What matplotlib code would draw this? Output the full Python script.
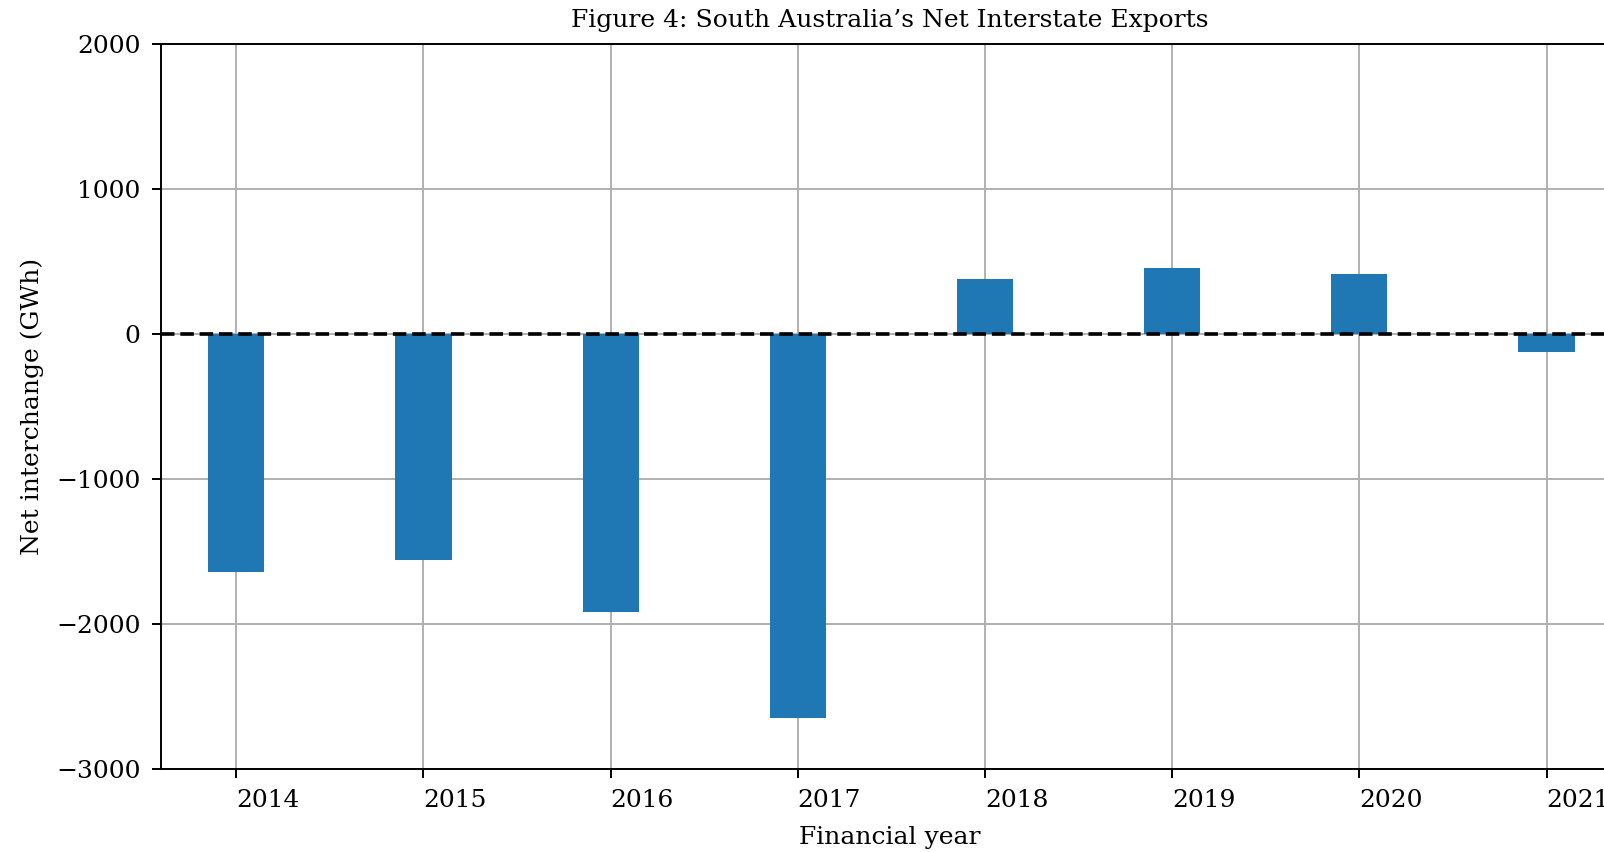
import matplotlib
matplotlib.use("Agg")
import matplotlib.pyplot as plt

years = [2014, 2015, 2016, 2017, 2018, 2019, 2020, 2021]
net_interchange = [-1643, -1558, -1918, -2645, 381, 458, 416, -127]
yticks = [-3000, -2000, -1000, 0, 1000, 2000]

S = 1.75
plt.rcParams['font.family'] = ['DejaVu Serif']
plt.rcParams['font.size'] = 18

fig = plt.figure(figsize=(16.04, 8.52), dpi=100)
ax = fig.add_axes([161/1604, 83/852, 1458/1604, 725/852])

ax.grid(True, color='#b0b0b0', lw=0.8 * S, zorder=0)
ax.set_axisbelow(True)
ax.bar(years, net_interchange, width=0.3, color='#1f77b4', zorder=2)
ax.axhline(0, color='black', ls='--', lw=1.5 * S, zorder=3)

ax.set_xlim(2013.598, 2021.387)
ax.set_ylim(-3000, 2000)
ax.set_yticks(yticks)
ax.set_xticks(years)
ax.set_xticklabels([str(y) for y in years], ha='left')

for sp in ax.spines.values():
    sp.set_linewidth(0.8 * S)
ax.tick_params(length=3.5 * S, width=0.8 * S, pad=8.5)

ax.set_title("Figure 4: South Australia’s Net Interstate Exports", fontsize=18, pad=12)
ax.set_xlabel("Financial year", labelpad=10)
ax.set_ylabel("Net interchange (GWh)", labelpad=9)

fig.savefig("out.png", dpi=100)
